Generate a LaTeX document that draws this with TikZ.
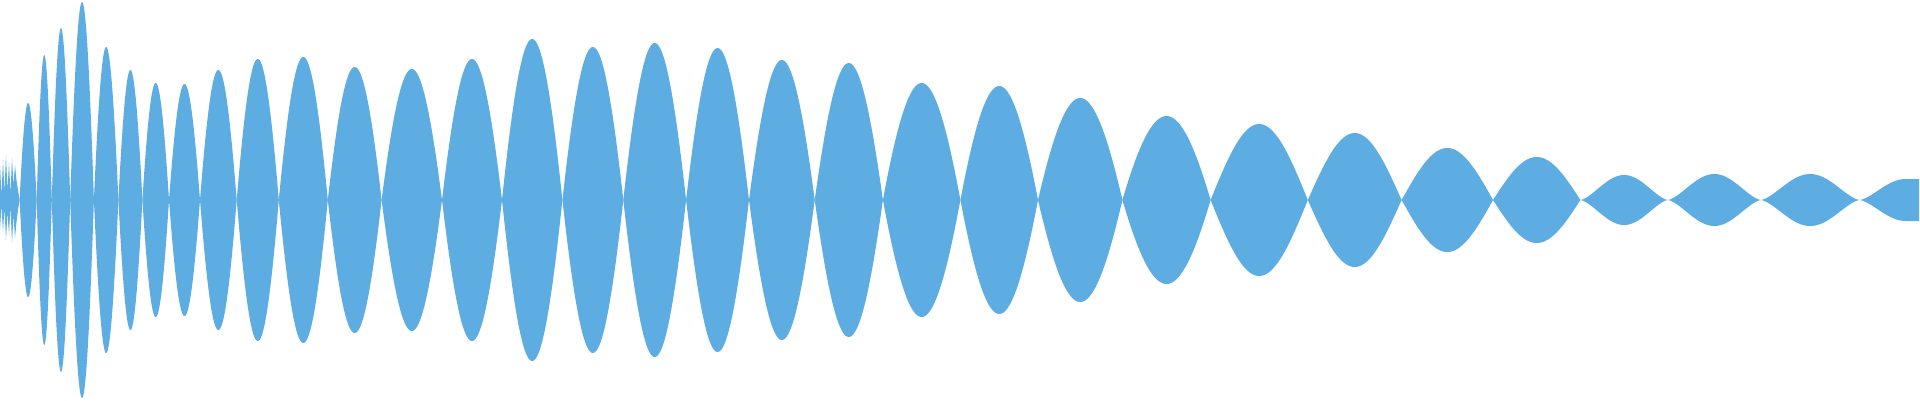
\documentclass[tikz,border=0pt]{standalone}
\definecolor{wavec}{RGB}{93,173,226}
\begin{document}
\begin{tikzpicture}[x=1pt,y=1pt,wave/.style={fill=wavec,draw=none}]
\useasboundingbox (0,0) rectangle (1920,-400);
% noisy start
\fill[wave] (0,-165) -- (1.5,-195) -- (3,-160) -- (4.5,-192) -- (6,-155) -- (7.5,-190) -- (9,-162) -- (10.5,-194) -- (12,-158) -- (13.5,-185) -- (15,-165) -- (16.5,-180) -- (18,-190) -- (19.6,-200)
 -- (18,-210) -- (16.5,-222) -- (15,-238) -- (13.5,-215) -- (12,-243) -- (10.5,-206) -- (9,-235) -- (7.5,-212) -- (6,-240) -- (4.5,-208) -- (3,-232) -- (1.5,-205) -- (0,-230) -- cycle;
\foreach \a/\b/\h in {19.6/36.7/97,36.7/51.8/145,51.8/70.2/172,70.2/93.9/198,93.9/118.4/153,118.4/142.4/130,142.4/169/117,169/200/116,200/236.7/130,236.7/278.8/141,278.8/327.8/143,327.8/381.6/133,381.6/442/131,442/502/141,502/562.4/161,562.4/623.3/153,623.3/686.1/157,686.1/749/152,749/814.7/140,814.7/882.9/137,882.9/960.4/117,960.4/1038/114,1038/1122.4/102,1122.4/1210.6/84}{
  \fill[wave] plot[domain=0:180,samples=60] ({\a+\x/180*(\b-\a)},{-200+\h*(0.5*sin(\x)+0.5*(1-(\x/90-1)^2))})
    -- plot[domain=180:0,samples=60] ({\a+\x/180*(\b-\a)},{-200-\h*(0.5*sin(\x)+0.5*(1-(\x/90-1)^2))}) -- cycle;
}
\foreach \a/\b/\h in {1210.6/1307.8/76,1307.8/1401.6/67,1401.6/1493/52,1493/1580.4/43}{
  \fill[wave] plot[domain=0:180,samples=50] ({\a+\x/180*(\b-\a)},{-200+\h*sin(\x)})
    -- plot[domain=180:0,samples=50] ({\a+\x/180*(\b-\a)},{-200-\h*sin(\x)}) -- cycle;
}
\foreach \a/\b/\h in {1580.4/1667.8/25,1667.8/1760.8/26,1760.8/1859.6/26}{
  \fill[wave] plot[domain=0:180,samples=50] ({\a+\x/180*(\b-\a)},{-200+\h*abs(sin(\x))*sqrt(abs(sin(\x)))})
    -- plot[domain=180:0,samples=50] ({\a+\x/180*(\b-\a)},{-200-\h*abs(sin(\x))*sqrt(abs(sin(\x)))}) -- cycle;
}
\fill[wave] plot[domain=0:90,samples=30] ({1859.6+\x/90*46},{-200+21*abs(sin(\x))*sqrt(abs(sin(\x)))}) -- (1919,-179) -- (1919,-221)
  -- plot[domain=90:0,samples=30] ({1859.6+\x/90*46},{-200-21*abs(sin(\x))*sqrt(abs(sin(\x)))}) -- cycle;
\end{tikzpicture}
\end{document}
